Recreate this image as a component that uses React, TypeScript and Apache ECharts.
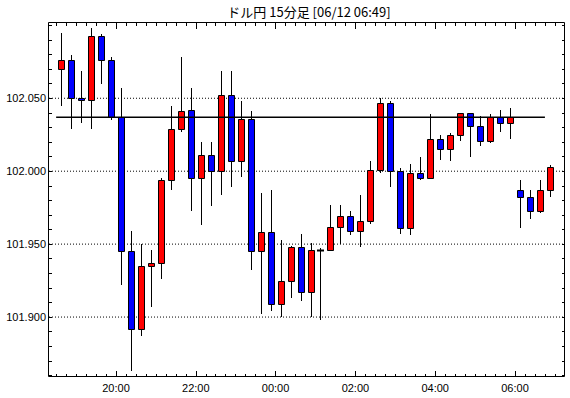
import React, { useEffect, useRef } from "react";
import * as echarts from "echarts";

// ---- data ----
const chartTitle = "ドル円 15分足 [06/12 06:49]";
const times = [
  "18:30", "18:45", "19:00", "19:15", "19:30", "19:45", "20:00", "20:15", "20:30", "20:45",
  "21:00", "21:15", "21:30", "21:45", "22:00", "22:15", "22:30", "22:45", "23:00", "23:15",
  "23:30", "23:45", "00:00", "00:15", "00:30", "00:45", "01:00", "01:15", "01:30", "01:45",
  "02:00", "02:15", "02:30", "02:45", "03:00", "03:15", "03:30", "03:45", "04:00", "04:15",
  "04:30", "04:45", "05:00", "05:15", "05:30", "05:45", "06:00", "06:15", "06:30", "06:45",
];
const opens = [
  102.070, 102.076, 102.050, 102.049, 102.093, 102.076, 102.037, 101.945, 101.892, 101.935,
  101.937, 101.994, 102.029, 102.042, 101.995, 102.011, 102.000, 102.052, 102.007, 102.036,
  101.945, 101.958, 101.909, 101.925, 101.948, 101.917, 101.946, 101.946, 101.962, 101.969,
  101.959, 101.966, 102.001, 102.047, 102.000, 101.961, 101.999, 101.995, 102.022, 102.015,
  102.025, 102.040, 102.031, 102.021, 102.037, 102.033, 101.987, 101.982, 101.973, 101.987,
];
const closes = [
  102.076, 102.050, 102.049, 102.093, 102.076, 102.037, 101.945, 101.892, 101.935, 101.937,
  101.994, 102.029, 102.041, 101.995, 102.011, 102.000, 102.052, 102.007, 102.036, 101.945,
  101.958, 101.909, 101.925, 101.948, 101.917, 101.946, 101.946, 101.962, 101.969, 101.959,
  101.966, 102.001, 102.047, 102.000, 101.961, 101.999, 101.995, 102.022, 102.015, 102.025,
  102.040, 102.031, 102.021, 102.037, 102.033, 102.037, 101.982, 101.973, 101.987, 102.003,
];
const lows = [
  102.045, 102.029, 102.033, 102.029, 102.060, 102.035, 101.922, 101.863, 101.887, 101.907,
  101.926, 101.987, 102.027, 101.973, 101.963, 101.976, 101.984, 101.989, 101.996, 101.932,
  101.902, 101.904, 101.900, 101.913, 101.911, 101.900, 101.898, 101.946, 101.950, 101.956,
  101.948, 101.964, 101.999, 101.989, 101.957, 101.956, 101.994, 101.995, 102.008, 102.007,
  102.021, 102.010, 102.017, 102.019, 102.027, 102.022, 101.961, 101.967, 101.971, 101.982,
];
const highs = [
  102.095, 102.080, 102.069, 102.098, 102.094, 102.078, 102.057, 101.959, 101.950, 101.946,
  101.995, 102.045, 102.078, 102.057, 102.020, 102.020, 102.069, 102.069, 102.048, 102.041,
  101.985, 101.987, 101.953, 101.949, 101.957, 101.951, 101.947, 101.977, 101.977, 101.973,
  101.984, 102.007, 102.050, 102.048, 102.002, 102.005, 102.010, 102.039, 102.025, 102.026,
  102.040, 102.040, 102.038, 102.039, 102.042, 102.043, 101.994, 101.987, 101.994, 102.004,
];
const yLabelValues = [101.9, 101.95, 102.0, 102.05];
const xLabelTimes = ["20:00", "22:00", "00:00", "02:00", "04:00", "06:00"];
const refLevel = 102.037;
const refStart = "18:30";
const refEnd = "06:45";

// ---- helpers ----
const toMin = (t: string) => {
  const [h, m] = t.split(":").map(Number);
  let v = h * 60 + m - 18 * 60;
  if (v < 0) v += 24 * 60;
  return v;
};
const fmtMin = (v: number) => {
  let tot = Math.round(v) + 18 * 60;
  tot = tot % (24 * 60);
  const h = Math.floor(tot / 60);
  const m = tot % 60;
  return String(h).padStart(2, "0") + ":" + String(m).padStart(2, "0");
};

const X_MIN = 19.25;
const X_MAX = 795.2;
const Y_MIN = 101.8589;
const Y_MAX = 102.1016;
const G_LEFT = 49;
const G_TOP = 23;
const G_RIGHT = 5;
const G_BOTTOM = 21;
const W = 570;
const H = 398;

export default function App() {
  const ref = useRef<HTMLDivElement>(null);
  useEffect(() => {
    if (!ref.current) return;
    const chart = echarts.init(ref.current, undefined, { renderer: "svg" });

    const candleData = times.map((t, i) => [toMin(t) + 7.5, opens[i], closes[i], lows[i], highs[i]]);
    const minorX: number[] = [];
    for (let v = 30; v <= 780; v += 15) minorX.push(v);
    const majorX = xLabelTimes.map(toMin);
    const minorY: number[] = [];
    for (let k = 101860; k <= 102100; k += 10) minorY.push(k / 1000);

    const baseX = (position: string, len: number, ticks: number[], labels: boolean) => ({
      type: "value",
      position,
      min: X_MIN,
      max: X_MAX,
      axisLine: { show: false },
      splitLine: { show: false },
      axisTick: { show: true, inside: true, length: len, customValues: ticks, lineStyle: { color: "#000", width: 1 } },
      axisLabel: labels
        ? {
            show: true,
            customValues: majorX,
            formatter: (v: number) => fmtMin(v),
            color: "#000",
            fontSize: 11,
            fontFamily: "Liberation Sans, Arial, sans-serif",
            margin: 5,
          }
        : { show: false },
    });
    const baseY = (position: string, labels: boolean) => ({
      type: "value",
      position,
      min: Y_MIN,
      max: Y_MAX,
      axisLine: { show: false },
      splitLine: { show: false },
      axisTick: { show: true, inside: true, length: 3, customValues: minorY, lineStyle: { color: "#000", width: 1 } },
      axisLabel: labels
        ? {
            show: true,
            customValues: yLabelValues,
            formatter: (v: number) => v.toFixed(3),
            color: "#000",
            fontSize: 11,
            fontFamily: "Liberation Sans, Arial, sans-serif",
            margin: 3,
          }
        : { show: false },
    });

    const gridSeries = yLabelValues.map((v) => ({
      type: "line",
      xAxisIndex: 0,
      yAxisIndex: 0,
      data: [
        [X_MIN, v],
        [X_MAX, v],
      ],
      symbol: "none",
      silent: true,
      z: 1,
      lineStyle: { color: "#000", width: 1, type: [1, 2] },
    }));

    chart.setOption({
      animation: false,
      backgroundColor: "#fff",
      grid: {
        left: G_LEFT,
        right: G_RIGHT,
        top: G_TOP,
        bottom: G_BOTTOM,
        show: false,
        containLabel: false,
      },
      graphic: [
        {
          type: "text",
          x: 309,
          y: 11,
          style: {
            text: chartTitle,
            fill: "#000",
            fontSize: 13,
            fontFamily: "Noto Sans CJK JP, sans-serif",
            textAlign: "center",
            textVerticalAlign: "middle",
          },
        },
        {
          type: "rect",
          z: 10,
          silent: true,
          shape: {
            x: G_LEFT - 0.5,
            y: G_TOP - 0.5,
            width: W - G_LEFT - G_RIGHT,
            height: H - G_TOP - G_BOTTOM,
          },
          style: { fill: "none", stroke: "#000", lineWidth: 1 },
        },
      ],
      xAxis: [
        baseX("bottom", 3, minorX, false),
        baseX("bottom", 6, majorX, true),
        baseX("top", 3, minorX, false),
        baseX("top", 6, majorX, false),
      ],
      yAxis: [baseY("left", true), baseY("right", false)],
      series: [
        ...gridSeries,
        {
          type: "custom",
          xAxisIndex: 0,
          yAxisIndex: 0,
          z: 3,
          encode: { x: 0, y: [1, 2, 3, 4] },
          data: candleData,
          renderItem: (_params: any, api: any) => {
            const t = api.value(0);
            const o = api.value(1);
            const c = api.value(2);
            const l = api.value(3);
            const h = api.value(4);
            const pO = api.coord([t, o]);
            const pC = api.coord([t, c]);
            const pL = api.coord([t, l]);
            const pH = api.coord([t, h]);
            const cx = Math.round(pO[0]) + 0.5;
            const top = Math.round(Math.min(pO[1], pC[1])) + 0.5;
            const bot = Math.round(Math.max(pO[1], pC[1])) + 0.5;
            const flat = Math.abs(c - o) < 0.0005;
            const up = c > o;
            const children: any[] = [
              {
                type: "line",
                shape: { x1: cx, y1: Math.round(pH[1]), x2: cx, y2: Math.round(pL[1]) },
                style: { stroke: "#000", lineWidth: 1 },
              },
            ];
            if (flat) {
              children.push({
                type: "line",
                shape: { x1: cx - 3.5, y1: top, x2: cx + 3.5, y2: top },
                style: { stroke: "#000", lineWidth: 2 },
              });
            } else {
              children.push({
                type: "rect",
                shape: { x: cx - 3, y: top, width: 6, height: bot - top },
                style: { fill: up ? "#ff0000" : "#0000ff", stroke: "#000", lineWidth: 1 },
              });
            }
            return { type: "group", children };
          },
        },
        {
          type: "line",
          xAxisIndex: 0,
          yAxisIndex: 0,
          data: [
            [toMin(refStart), refLevel],
            [toMin(refEnd), refLevel],
          ],
          symbol: "none",
          silent: true,
          z: 5,
          lineStyle: { color: "#000", width: 1.5 },
        },
      ],
    });
    return () => chart.dispose();
  }, []);
  return (
    <div
      ref={ref}
      style={{ position: "fixed", left: 0, top: 0, width: W, height: H, background: "#fff" }}
    />
  );
}
